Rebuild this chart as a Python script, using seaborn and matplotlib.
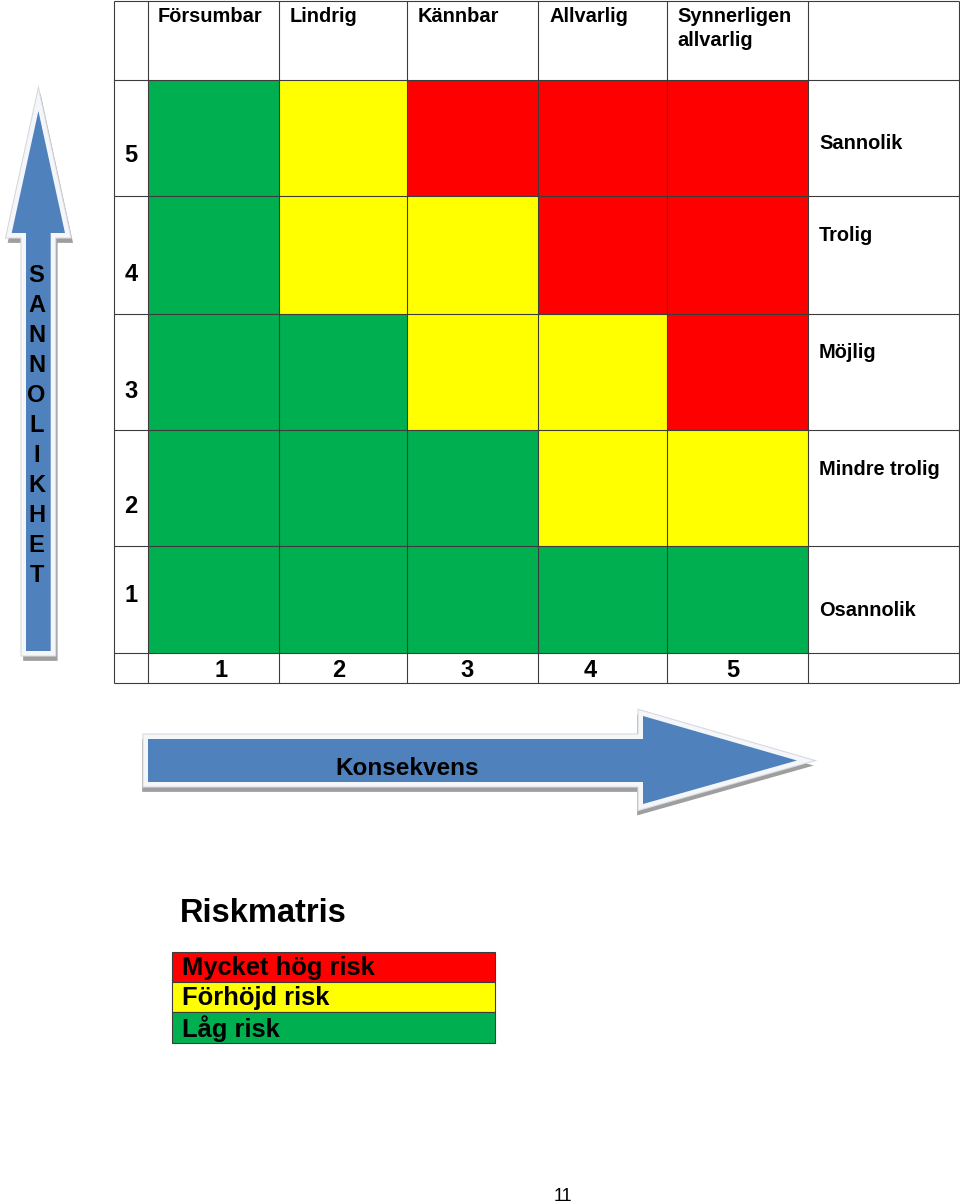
import numpy as np
import pandas as pd
import matplotlib
matplotlib.use("Agg")
import matplotlib.pyplot as plt
import seaborn as sns
from matplotlib.colors import ListedColormap
from matplotlib.patches import Polygon, Rectangle

# ---------------- data ----------------
consequence_labels = ["Försumbar", "Lindrig", "Kännbar", "Allvarlig", "Synnerligen\nallvarlig"]
consequence_levels = [1, 2, 3, 4, 5]
likelihood_levels = [5, 4, 3, 2, 1]            # rows, top to bottom
likelihood_labels = ["Sannolik", "Trolig", "Möjlig", "Mindre trolig", "Osannolik"]
# risk level per cell: 0 = låg, 1 = förhöjd, 2 = mycket hög
risk_grid = [
    [0, 1, 2, 2, 2],
    [0, 1, 1, 2, 2],
    [0, 0, 1, 1, 2],
    [0, 0, 0, 1, 1],
    [0, 0, 0, 0, 0],
]
risk_names = ["Låg risk", "Förhöjd risk", "Mycket hög risk"]
risk_colors = ["#00B050", "#FFFF00", "#FF0000"]
title_text = "Riskmatris"
x_axis_text = "Konsekvens"
y_axis_text = "SANNOLIKHET"
page_number = "11"

# ---------------- layout (pixels) ----------------
W, H = 960, 1204
col_edges = [114, 148, 279, 407, 538, 667, 808, 959]
row_edges = [1, 80, 196, 314, 430, 546, 653, 683]
grid_cols = col_edges[1:7]
grid_rows = row_edges[1:7]
header_x = [158, 290, 418, 549, 677]
header_baseline = 22.5
header_line_gap = 23
rownum_baseline = [162, 281, 398, 513, 602]
rownum_x = 131
rowlabel_baseline = [149, 241, 358, 475, 616]
rowlabel_x = 819
colnum_x = [221.5, 339, 467, 590, 733]
colnum_baseline = 677

sns.set_theme(style="white")
plt.rcParams["font.family"] = ["Liberation Sans", "DejaVu Sans"]

fig = plt.figure(figsize=(W / 100, H / 100), dpi=100)


def piecewise(src, dst):
    src = np.asarray(src, float)
    dst = np.asarray(dst, float)
    s0 = (dst[1] - dst[0]) / (src[1] - src[0])
    s1 = (dst[-1] - dst[-2]) / (src[-1] - src[-2])

    def f(v):
        v = np.asarray(v, float)
        out = np.interp(v, src, dst)
        out = np.where(v < src[0], dst[0] + (v - src[0]) * s0, out)
        out = np.where(v > src[-1], dst[-1] + (v - src[-1]) * s1, out)
        return out
    return f


# ---------------- heatmap of the risk matrix ----------------
hm_ax = fig.add_axes([grid_cols[0] / W, 1 - grid_rows[-1] / H,
                      (grid_cols[-1] - grid_cols[0]) / W,
                      (grid_rows[-1] - grid_rows[0]) / H])
df = pd.DataFrame(risk_grid, index=likelihood_levels, columns=consequence_levels)
sns.heatmap(df, ax=hm_ax, cmap=ListedColormap(risk_colors), vmin=0, vmax=2,
            cbar=False, xticklabels=False, yticklabels=False, linewidths=0)
idx = np.arange(len(consequence_levels) + 1)
hm_ax.set_xscale("function", functions=(piecewise(idx, grid_cols), piecewise(grid_cols, idx)))
hm_ax.set_yscale("function", functions=(piecewise(idx, grid_rows), piecewise(grid_rows, idx)))
hm_ax.set_xlim(0, len(consequence_levels))
hm_ax.set_ylim(len(likelihood_levels), 0)
hm_ax.set_axis_off()

# ---------------- overlay axes in pixel coordinates ----------------
ax = fig.add_axes([0, 0, 1, 1])
ax.set_xlim(0, W)
ax.set_ylim(H, 0)
ax.set_axis_off()
ax.set_zorder(3)
ax.patch.set_visible(False)

line_kw = dict(color="#3c3c3c", lw=0.8)
ax.vlines(col_edges, row_edges[0], row_edges[-1], **line_kw)
ax.hlines(row_edges, col_edges[0], col_edges[-1], **line_kw)

bold = dict(fontweight="bold", color="black")
for x, lab in zip(header_x, consequence_labels):
    for k, part in enumerate(lab.split("\n")):
        ax.text(x, header_baseline + k * header_line_gap, part, ha="left", va="baseline",
                fontsize=14.4, **bold)
for y, lev in zip(rownum_baseline, likelihood_levels):
    ax.text(rownum_x, y, str(lev), ha="center", va="baseline", fontsize=17, **bold)
for y, lab in zip(rowlabel_baseline, likelihood_labels):
    ax.text(rowlabel_x, y, lab, ha="left", va="baseline", fontsize=14.4, **bold)
for x, lev in zip(colnum_x, consequence_levels):
    ax.text(x, colnum_baseline, str(lev), ha="center", va="baseline", fontsize=17, **bold)


# ---------------- arrows ----------------
def fancy_arrow(pts, shadow_off):
    pts = np.asarray(pts, float)
    sh = pts + np.asarray(shadow_off, float)
    ax.add_patch(Polygon(sh, closed=True, facecolor="#9e9e9e", edgecolor="#9e9e9e",
                         lw=7, joinstyle="miter", zorder=1))
    ax.add_patch(Polygon(pts, closed=True, facecolor="white", edgecolor="#d4d8de",
                         lw=8, joinstyle="miter", zorder=2))
    ax.add_patch(Polygon(pts, closed=True, facecolor="white", edgecolor="#f4f6f9",
                         lw=6.5, joinstyle="miter", zorder=3))
    ax.add_patch(Polygon(pts, closed=True, facecolor="#4F81BD", edgecolor="none",
                         zorder=4))


up_arrow = [(38.4, 111), (65, 233), (50.7, 233), (50.7, 651), (26, 651), (26, 233), (11.7, 233)]
right_arrow = [(148, 739), (643, 739), (643, 716), (797, 760.5), (643, 804), (643, 782), (148, 782)]
fancy_arrow(up_arrow, (2, 5))
fancy_arrow(right_arrow, (-1, 5))

for i, ch in enumerate(y_axis_text):
    ax.text(36.5, 282 + i * 30, ch, ha="center", va="baseline", fontsize=17, zorder=5, **bold)
ax.text(407, 775, x_axis_text, ha="center", va="baseline", fontsize=17.5, zorder=5, **bold)

# ---------------- legend ----------------
ax.text(180, 921.5, title_text, ha="left", va="baseline", fontsize=23.5,
        fontweight="bold", color="black")
leg_x0, leg_x1 = 172, 495
leg_rows = [952, 982, 1012, 1043]
leg_baselines = [975, 1005.5, 1036.5]
for i, (name, colr) in enumerate(zip(risk_names[::-1], risk_colors[::-1])):
    ax.add_patch(Rectangle((leg_x0, leg_rows[i]), leg_x1 - leg_x0, leg_rows[i + 1] - leg_rows[i],
                           facecolor=colr, edgecolor="#3c3c3c", lw=0.8))
    ax.text(182, leg_baselines[i], name, ha="left", va="baseline", fontsize=18.4, **bold)

ax.text(563, 1201, page_number, ha="center", va="baseline", fontsize=13, color="black")

fig.savefig("out.png", dpi=100)
